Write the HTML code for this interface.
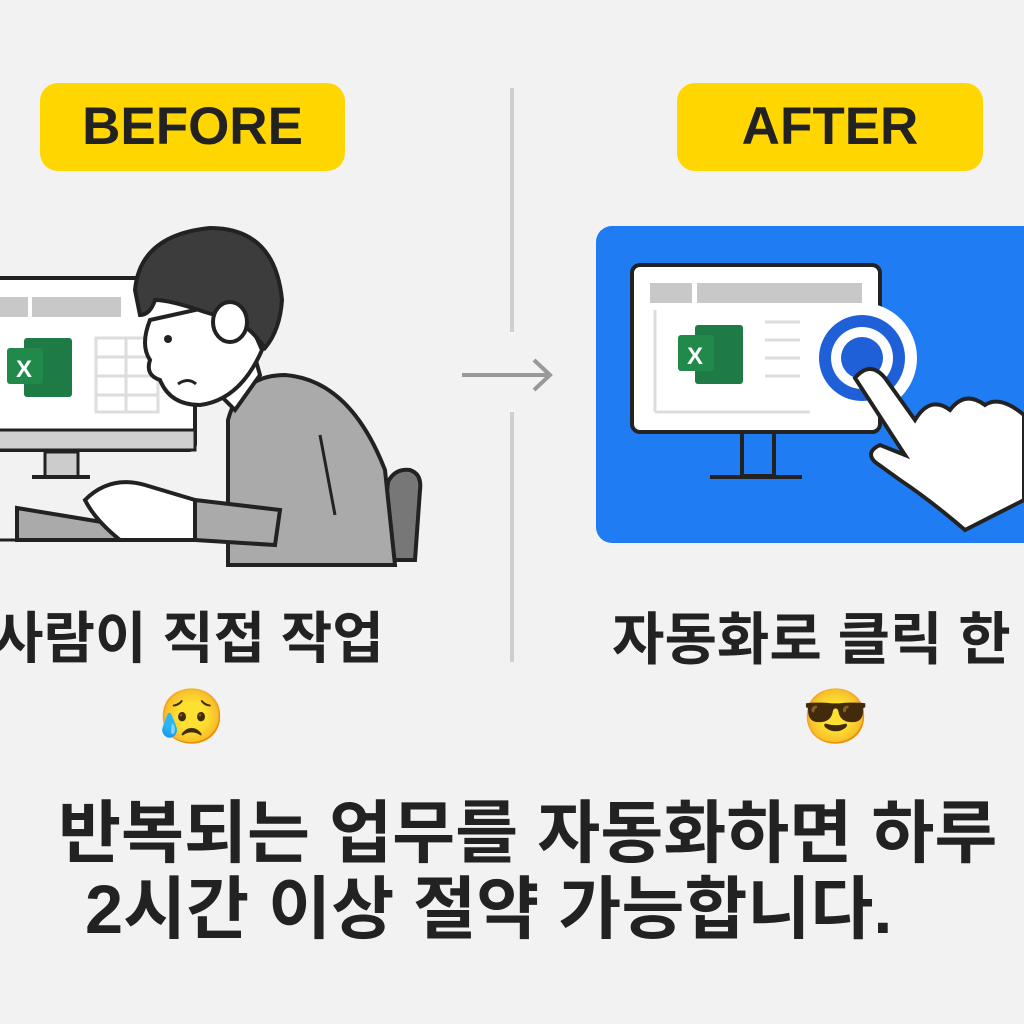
<!DOCTYPE html>
<html><head><meta charset="utf-8"><style>
body{margin:0;width:1024px;height:1024px;background:#f2f2f2;overflow:hidden;position:relative;font-family:"Liberation Sans","Noto Sans CJK KR",sans-serif;}
.badge{position:absolute;background:#ffd600;border-radius:18px;font-weight:bold;font-size:53px;color:#222;text-align:center;line-height:88px;height:88px;}
.t{position:absolute;font-weight:bold;color:#222;white-space:nowrap;}
</style></head><body>
<div class="badge" style="left:40px;top:83px;width:305px;">BEFORE</div>
<div class="badge" style="left:677px;top:83px;width:306px;">AFTER</div>
<div style="position:absolute;left:510px;top:88px;width:4px;height:244px;background:#cfcfcf"></div>
<div style="position:absolute;left:510px;top:412px;width:4px;height:250px;background:#cfcfcf"></div>
<svg style="position:absolute;left:0;top:0" width="1024" height="1024">
<path d="M462 375 H550 M534 360 L550 375 L534 390" stroke="#999" stroke-width="4" fill="none"/>
<rect x="-10" y="278" width="205" height="172" rx="6" fill="#fff" stroke="#222" stroke-width="4"/>
<rect x="-10" y="297" width="38" height="20" fill="#c8c8c8"/><rect x="32" y="297" width="89" height="20" fill="#c8c8c8"/>
<rect x="-10" y="430" width="205" height="20" fill="#d0d0d0" stroke="#222" stroke-width="3"/>
<rect x="45" y="452" width="33" height="25" fill="#ccc" stroke="#222" stroke-width="3"/>
<line x1="32" y1="477" x2="90" y2="477" stroke="#222" stroke-width="4"/>
<rect x="24" y="338" width="48" height="59" rx="3" fill="#1e7b45"/>
<rect x="7" y="348" width="36" height="36" rx="3" fill="#218a4a"/>
<text x="16" y="377" font-size="24" font-weight="bold" fill="#fff" font-family="Liberation Sans">X</text>
<g stroke="#ddd" stroke-width="3" fill="none"><rect x="96" y="338" width="62" height="74"/><line x1="96" y1="357" x2="158" y2="357"/><line x1="96" y1="376" x2="158" y2="376"/><line x1="96" y1="395" x2="158" y2="395"/><line x1="126" y1="338" x2="126" y2="412"/></g>
<path d="M380 560 L388 482 Q395 468 410 470 Q422 474 420 490 L415 560Z" fill="#777" stroke="#222" stroke-width="4"/>
<path d="M228 565 L228 420 Q240 375 285 375 Q350 380 385 470 L395 565Z" fill="#aaa" stroke="#222" stroke-width="4"/>
<path d="M195 500 L280 510 L275 545 L195 540Z" fill="#aaa" stroke="#222" stroke-width="4"/>
<line x1="320" y1="435" x2="335" y2="515" stroke="#222" stroke-width="3"/>
<path d="M17 508 L120 525 Q128 538 120 540 L17 540Z" fill="#aaa" stroke="#222" stroke-width="4"/>
<line x1="0" y1="540" x2="195" y2="540" stroke="#222" stroke-width="3"/>
<path d="M85 500 Q110 475 145 485 L195 500 L195 540 L120 540 Q95 520 85 500Z" fill="#fff" stroke="#222" stroke-width="4"/>
<path d="M215 390 L235 410 L260 375 L250 340Z" fill="#fff" stroke="#222" stroke-width="4"/>
<path d="M150 320 Q140 345 150 360 Q145 375 160 380 Q170 405 200 405 Q240 400 262 350 L240 300 Z" fill="#fff" stroke="#222" stroke-width="4"/>
<path d="M135 290 Q140 235 210 228 Q275 228 282 300 Q280 330 265 348 Q245 320 225 318 L205 312 Q170 300 155 300 Q150 315 140 315Z" fill="#3c3c3c" stroke="#222" stroke-width="4"/>
<ellipse cx="230" cy="322" rx="17" ry="20" fill="#fff" stroke="#222" stroke-width="4"/>
<circle cx="168" cy="339" r="4" fill="#222"/>
<path d="M178 384 Q188 377 196 384" stroke="#222" stroke-width="3" fill="none"/>
<rect x="596" y="226" width="450" height="317" rx="16" fill="#1f7cf2"/>
<rect x="632" y="265" width="248" height="167" rx="8" fill="#fff" stroke="#222" stroke-width="4"/>
<rect x="650" y="283" width="42" height="20" fill="#c8c8c8"/><rect x="697" y="283" width="165" height="20" fill="#c8c8c8"/>
<g stroke="#ddd" stroke-width="3"><line x1="655" y1="310" x2="655" y2="412"/><line x1="655" y1="412" x2="810" y2="412"/><line x1="765" y1="322" x2="800" y2="322"/><line x1="765" y1="340" x2="800" y2="340"/><line x1="765" y1="358" x2="800" y2="358"/><line x1="765" y1="376" x2="800" y2="376"/></g>
<rect x="695" y="325" width="48" height="59" rx="3" fill="#1e7b45"/>
<rect x="678" y="335" width="36" height="36" rx="3" fill="#218a4a"/>
<text x="687" y="364" font-size="24" font-weight="bold" fill="#fff" font-family="Liberation Sans">X</text>
<rect x="742" y="432" width="32" height="44" fill="#1f7cf2" stroke="#222" stroke-width="4"/>
<line x1="710" y1="477" x2="802" y2="477" stroke="#222" stroke-width="4"/>
<circle cx="862" cy="358" r="55" fill="#fff"/>
<circle cx="862" cy="358" r="43" fill="#1f5fd8"/>
<circle cx="862" cy="358" r="31" fill="#fff"/>
<circle cx="862" cy="358" r="21" fill="#1f5fd8"/>
<path d="M855 378 Q870 360 885 378 L915 420 Q930 395 950 410 Q965 390 985 405 Q1000 395 1024 415 L1024 500 L965 530 Q930 500 900 480 L875 462 Q865 452 880 445 L905 455Z" fill="#fff" stroke="#222" stroke-width="4"/>
</svg>
<div class="t" style="left:-8px;top:594px;font-size:56px;">사람이 직접 작업</div>
<div class="t" style="left:612px;top:594px;font-size:57px;">자동화로 클릭 한</div>
<div style="position:absolute;left:158px;top:686px;font-size:54px;line-height:64px;font-family:'Noto Color Emoji',sans-serif">😥</div>
<div style="position:absolute;left:802px;top:686px;font-size:54px;line-height:64px;font-family:'Noto Color Emoji',sans-serif">😎</div>
<div class="t" style="left:58px;top:778px;font-size:68.5px;">반복되는 업무를 자동화하면 하루</div>
<div class="t" style="left:85px;top:854px;font-size:68.5px;">2시간 이상 절약 가능합니다.</div>
</body></html>
